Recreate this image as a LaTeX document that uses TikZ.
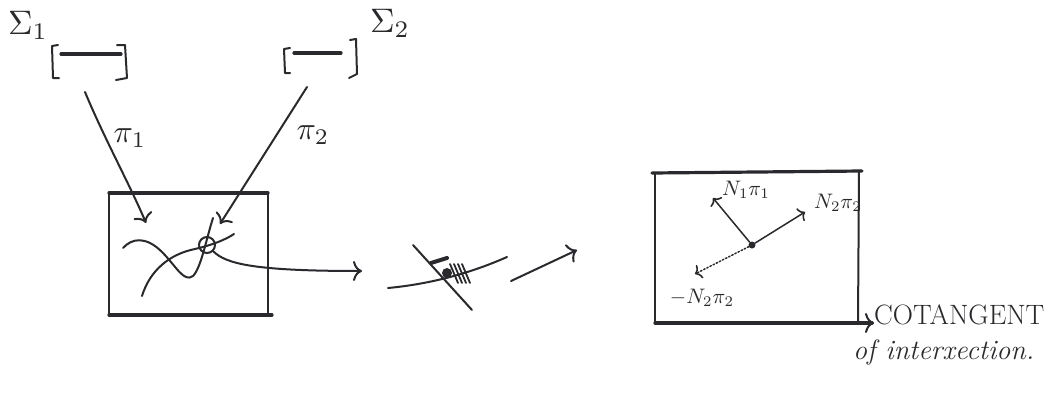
\documentclass[tikz,border=0pt]{standalone}
\usepackage{graphicx}
\usetikzlibrary{arrows.meta}
\definecolor{ink}{HTML}{2A2A2E}
\newcommand{\scmath}[2]{\scalebox{#1}{$#2$}}
\begin{document}
\begin{tikzpicture}[x=1pt,y=-1pt,
  pen/.style={draw=ink, line width=2pt, line cap=round, line join=round},
  thinpen/.style={draw=ink, line width=1.5pt, line cap=round, line join=round},
  heavy/.style={draw=ink, line width=3.2pt, line cap=round},
  hook/.style={-{Computer Modern Rightarrow[length=9pt,width=20pt,line width=2pt]}},
  smallhook/.style={-{Computer Modern Rightarrow[length=6pt,width=15pt,line width=1.6pt]}},
  lbl/.style={inner sep=0pt, text=ink}]
\fill[white] (0,0) rectangle (1063,399);
\useasboundingbox (0,0) rectangle (1063,399);

% ---- Sigma_1 interval
\node[lbl] (sig1) at (28,25) {\scmath{3.4}{\Sigma_1}};
\draw[pen] (58,45) -- (52,46) -- (53,78) -- (59,78);
\draw[heavy] (61,54) -- (121,54);
\draw[pen] (117,45) -- (125,45) -- (127,78) -- (116,80);
\coordinate (s1) at (85,92);

% ---- Sigma_2 interval
\node[lbl] (sig2) at (390,23) {\scmath{3.4}{\Sigma_2}};
\draw[pen] (290,48) -- (284,49) -- (285,73) -- (290,73);
\draw[heavy] (294,53) -- (341,53);
\draw[pen] (350,40) -- (356,39) -- (357,74) -- (349,78);
\coordinate (s2) at (307,87);

% ---- first box
\coordinate (b1nw) at (109,193);
\coordinate (b1ne) at (268,193);
\coordinate (b1sw) at (109,315);
\coordinate (b1se) at (268,315);
\draw[heavy] (b1nw) -- (b1ne);
\draw[heavy] (b1sw) -- ([xshift=4pt]b1se);
\draw[pen] (b1nw) -- (b1sw);
\draw[pen] (b1ne) -- (b1se);

\coordinate (p1e) at (146,223);
\coordinate (p2e) at (220,224);
\draw[pen, hook] (s1) .. controls (105,140) and (130,185) .. (p1e);
\draw[pen, hook] (s2) -- (p2e);
\node[lbl] (pi1) at (130,138) {\scmath{3.2}{\pi_1}};
\node[lbl] (pi2) at (313,135) {\scmath{3.2}{\pi_2}};

% curves
\draw[pen] (123,248) .. controls (132,238) and (146,236) .. (162,252)
           .. controls (176,266) and (184,283) .. (193,276)
           .. controls (201,268) and (206,240) .. (213,218);
\draw[pen] (142,296) .. controls (150,270) and (170,254) .. (195,249)
           .. controls (212,245) and (225,240) .. (234,234);
\node[draw=ink, line width=2pt, circle, minimum size=16pt, inner sep=0pt] (cir) at (207,245) {};
\coordinate (c1) at (362,271);
\draw[pen, hook] (cir.south east) .. controls (226,264) and (255,271) .. (c1);

% ---- middle sketch
\draw[pen] (388,288) .. controls (420,285) and (462,277) .. (507,257);
\draw[pen] (413,245) -- (472,310);
\draw[heavy, line width=4pt] (431,263) -- (447,258);
\fill[ink] (447,273) circle (5pt);
\foreach \k in {0,1,2,3}
  \draw[thinpen, line width=1.8pt] ({450+4*\k},264) -- ({458+4*\k},283);
\coordinate (e1) at (511,281);
\coordinate (e2) at (577,250);
\draw[pen, hook] (e1) -- (e2);

% ---- second box
\coordinate (b2nw) at (655,173);
\coordinate (b2ne) at (859,171);
\coordinate (b2sw) at (655,323);
\coordinate (b2se) at (858,322);
\draw[heavy] ([xshift=-3pt]b2nw) -- ([xshift=3pt]b2ne);
\draw[pen] (b2nw) -- (b2sw);
\draw[pen] (b2ne) -- (b2se);
\node[lbl, anchor=west, font=\fontsize{28}{32}\selectfont] (cot) at (874,315) {COTANGENT};
\node[lbl, anchor=west, font=\fontsize{28}{32}\selectfont\itshape] (inter) at (853,352) {of interxection.};
\draw[heavy, hook] (b2sw) -- (cot.west |- b2sw);

% normals
\node[circle, fill=ink, inner sep=0pt, minimum size=7pt] (dot) at (752,245) {};
\coordinate (n1) at (713,198);
\coordinate (n2) at (805,212);
\coordinate (n3) at (695,274);
\draw[thinpen, smallhook] (dot) -- (n1);
\draw[thinpen, smallhook] (dot) -- (n2);
\draw[thinpen, dotted, smallhook] (dot) -- (n3);
\node[lbl] (l1) at (746,190) {\scmath{2.1}{N_1\pi_1}};
\node[lbl] (l2) at (838,203) {\scmath{2.1}{N_2\pi_2}};
\node[lbl] (l3) at (702,298) {\scmath{2.1}{-N_2\pi_2}};
\end{tikzpicture}
\end{document}
